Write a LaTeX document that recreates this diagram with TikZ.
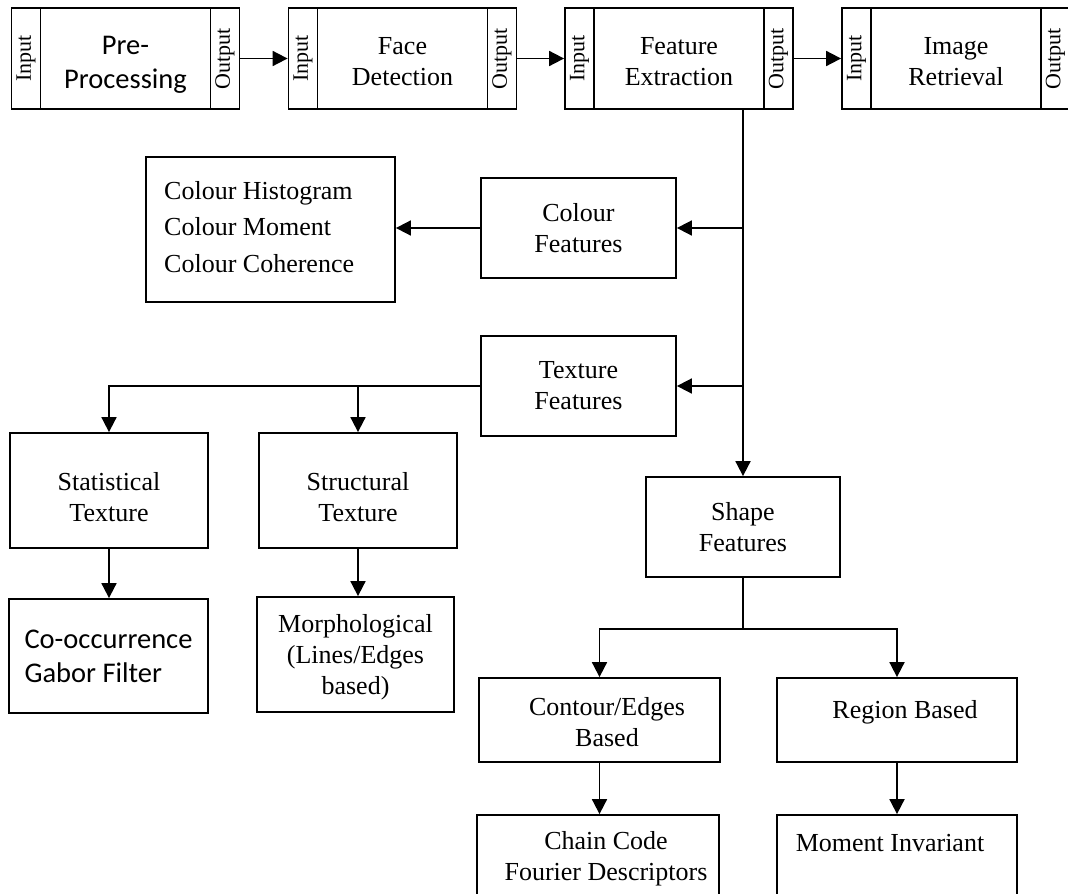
\documentclass[tikz,border=0pt]{standalone}
\usepackage{fontspec}
\setmainfont{Liberation Serif}
\newfontfamily\calibrifont{Carlito}
\usetikzlibrary{arrows.meta}
\newcommand\szserif{\fontsize{26pt}{31pt}\selectfont}
\newcommand\szsans{\calibrifont\fontsize{28.5pt}{34pt}\selectfont}
\newcommand\szio{\fontsize{22pt}{22pt}\selectfont}
\begin{document}
\begin{tikzpicture}[x=1pt,y=1pt,
  box/.style={draw, line width=1.8pt, inner sep=0pt, align=center, font=\szserif},
  io/.style={box, minimum width=29pt, minimum height=101pt, font=\szio},
  mainbox/.style={box, minimum width=170pt, minimum height=101pt},
  conn/.style={line width=1.8pt},
  arr/.style={conn, -{Triangle[length=15pt,width=15pt]}},
  lbl/.style={inner sep=0pt, align=center, font=\szserif}]
\useasboundingbox (0,0) rectangle (1068,-894);

% top row
\node[io] (p-in) at (26,-58.5) {\rotatebox{90}{Input}};
\node[mainbox] (pp) at (125.5,-58.5) {};
\node[lbl, font=\szsans] (pptext) at (125.5,-65) {Pre-\\Processing};
\node[io] (p-out) at (225,-58.5) {\rotatebox{90}{Output}};

\node[io] (f-in) at (303,-58.5) {\rotatebox{90}{Input}};
\node[mainbox] (fd) at (402.5,-58.5) {};
\node[lbl] (fdtext) at (402.5,-62) {Face\\Detection};
\node[io] (f-out) at (502,-58.5) {\rotatebox{90}{Output}};

\node[io] (x-in) at (579.5,-58.5) {\rotatebox{90}{Input}};
\node[mainbox] (fx) at (679,-58.5) {};
\node[lbl] (fxtext) at (679,-62) {Feature\\Extraction};
\node[io] (x-out) at (778.5,-58.5) {\rotatebox{90}{Output}};

\node[io] (r-in) at (856.5,-58.5) {\rotatebox{90}{Input}};
\node[mainbox] (ir) at (956,-58.5) {};
\node[lbl] (irtext) at (956,-62) {Image\\Retrieval};
\node[io] (r-out) at (1055.5,-58.5) {\rotatebox{90}{Output}};

\draw[arr] (p-out.east) -- (f-in.west);
\draw[arr] (f-out.east) -- (x-in.west);
\draw[arr] (x-out.east) -- (r-in.west);

% colour
\node[box, minimum width=249, minimum height=145] (cl) at (270.5,-229.5) {};
\node[lbl, align=left, anchor=west, font=\fontsize{26pt}{36.5pt}\selectfont] (cltext) at (164,-227) {Colour Histogram\\Colour Moment\\Colour Coherence};
\node[box, minimum width=195, minimum height=100] (cf) at (578.5,-228) {Colour\\Features};

% texture
\node[box, minimum width=195, minimum height=100] (tf) at (578.5,-386) {Texture\\Features};
\node[box, minimum width=198, minimum height=115] (st) at (109,-490.5) {};
\node[lbl] (sttext) at (109,-497) {Statistical\\Texture};
\node[box, minimum width=198, minimum height=115] (su) at (358,-490.5) {};
\node[lbl] (sutext) at (358,-497) {Structural\\Texture};
\node[box, minimum width=199, minimum height=114, align=left, font=\szsans] (co) at (108.5,-656) {Co-occurrence\\Gabor Filter};
\node[box, minimum width=197, minimum height=115] (mo) at (355.5,-654.5) {};
\node[lbl] (motext) at (355.5,-657) {Morphological\\(Lines/Edges\\based)};

% shape
\node[box, minimum width=194, minimum height=100] (sh) at (743,-527) {Shape\\Features};
\node[box, minimum width=241, minimum height=84] (ce) at (599.5,-720) {};
\node[lbl] (cetext) at (607,-722) {Contour/Edges\\Based};
\node[box, minimum width=240, minimum height=84] (rg) at (897,-720) {};
\node[lbl] (rgtext) at (905,-712) {Region Based};
\node[box, minimum width=242, minimum height=120] (ch) at (598,-875) {};
\node[lbl] (chtext) at (606,-859) {Chain Code\\Fourier Descriptors};
\node[box, minimum width=240, minimum height=120] (mi) at (897,-875) {};
\node[lbl] (mitext) at (890,-843) {Moment Invariant};

% connectors
\draw[arr] (fx.south -| sh.north) -- (sh.north);
\draw[arr] (sh.north |- cf.east) -- (cf.east);
\draw[arr] (cf.west) -- (cl.east |- cf.west);
\draw[arr] (sh.north |- tf.east) -- (tf.east);
\draw[arr] (tf.west) -| (st.north);
\draw[arr] (su.north |- tf.west) -- (su.north);
\draw[arr] (st.south) -- (st.south |- co.north);
\draw[arr] (su.south) -- (su.south |- mo.north);
\coordinate (sj) at (743,-629);
\draw[conn] (sh.south) -- (sj);
\draw[arr] (sj) -| (ce.north);
\draw[arr] (sj) -| (rg.north);
\draw[arr] (ce.south) -- (ce.south |- ch.north);
\draw[arr] (rg.south) -- (rg.south |- mi.north);
\end{tikzpicture}
\end{document}
